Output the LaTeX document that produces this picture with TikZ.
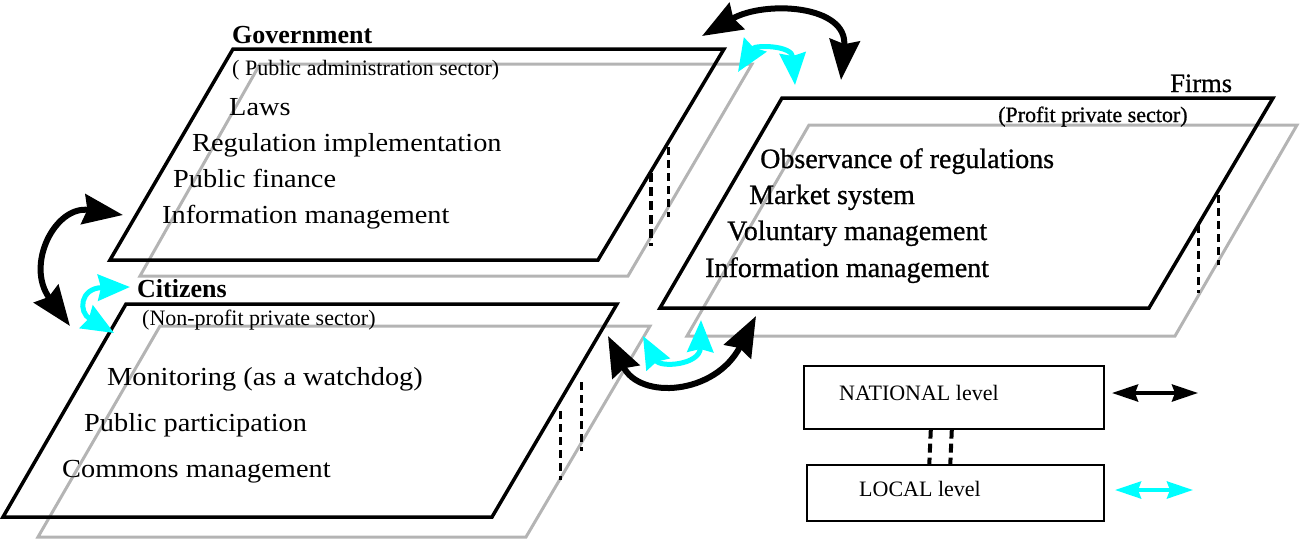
\documentclass[tikz,border=0pt]{standalone}
\usepackage{fontspec}
\setmainfont{Liberation Serif}
\newfontfamily\panelfont{Liberation Serif}[FakeStretch=1.09]
\newfontfamily\firmfont{Liberation Serif}[FakeBold=0.8]
\usetikzlibrary{arrows.meta}
\definecolor{localc}{RGB}{0,255,255}
\definecolor{shadowc}{RGB}{180,180,180}
\tikzset{
  front/.style={draw=black, line width=3.5pt, line join=miter},
  back/.style={draw=shadowc, line width=3pt, line join=miter},
  link/.style={line width=3pt, dash pattern=on 8pt off 5pt},
  biglink/.style={line width=4pt, dash pattern=on 9pt off 5pt},
  bigtip/.tip={Stealth[length=40pt,width=30pt,inset=4pt]},
  midtip/.tip={Stealth[length=32pt,width=26pt,inset=3pt]},
  smalltip/.tip={Stealth[length=26pt,width=17pt,inset=3pt]},
  natl/.style={draw=black, line width=6pt, bigtip-bigtip},
  locl/.style={draw=localc, line width=5pt, midtip-midtip},
  natkey/.style={draw=black, line width=4pt, smalltip-smalltip},
  lockey/.style={draw=localc, line width=4pt, smalltip-smalltip},
  body/.style={anchor=base west, inner sep=0pt, font=\panelfont\fontsize{26}{30}\selectfont},
  firmbody/.style={anchor=base west, inner sep=0pt, font=\firmfont\fontsize{28}{32}\selectfont},
  sub/.style={anchor=base west, inner sep=0pt, font=\fontsize{22}{26}\selectfont},
  firmsub/.style={anchor=base west, inner sep=0pt, font=\firmfont\fontsize{22}{26}\selectfont},
  head/.style={anchor=base west, inner sep=0pt, font=\bfseries\fontsize{26}{30}\selectfont},
  keybox/.style={draw=black, line width=1.6pt, anchor=north west, inner sep=0pt},
  keytext/.style={anchor=base west, inner sep=0pt, font=\fontsize{22}{26}\selectfont},
}
\begin{document}
\begin{tikzpicture}[x=1pt, y=-1pt]
\useasboundingbox (0,0) rectangle (1300,539);

% ---- lower (local) planes, grey ----
\draw[back] (260,64) -- (752,64) -- (628,276) -- (140,276) -- cycle;
\draw[back] (809,125) -- (1297,125) -- (1175,336) -- (687,336) -- cycle;
\draw[back] (160,326) -- (650,326) -- (526,537) -- (38,537) -- cycle;

% ---- upper (national) planes, black ----
\draw[front] (233,49) -- (724,49) -- (598,260) -- (110,260) -- cycle;
\draw[front] (782,98) -- (1273,98) -- (1149,308) -- (660,308) -- cycle;
\draw[front] (126,304) -- (617,304) -- (492,517) -- (3,517) -- cycle;

% ---- dashed ties between the two levels of each sector ----
\draw[biglink] (651,173) -- (651,246);
\draw[link] (668,147) -- (668,217);
\draw[link] (1198,225) -- (1198,293);
\draw[link] (1218,195) -- (1218,265);
\draw[link] (560,411) -- (560,480);
\draw[link] (581,382) -- (581,451);

% ---- Government ----
\node[head] (govhead) at (232,43) {Government};
\node[sub] (govsub) at (232,75) {( Public administration sector)};
\node[body] (gov1) at (229,115) {Laws};
\node[body] (gov2) at (192,151) {Regulation implementation};
\node[body] (gov3) at (173,187) {Public finance};
\node[body] (gov4) at (162,223) {Information management};

% ---- Firms ----
\node[anchor=base west, inner sep=0pt, font=\firmfont\fontsize{26.5}{30}\selectfont] (firmhead) at (1170,92) {Firms};
\node[firmsub] (firmsub) at (998,122) {(Profit private sector)};
\node[firmbody] (firm1) at (760,168) {Observance of regulations};
\node[firmbody] (firm2) at (749,204) {Market system};
\node[firmbody] (firm3) at (727,240) {Voluntary management};
\node[firmbody] (firm4) at (705,277) {Information management};

% ---- Citizens ----
\node[head] (cithead) at (137,297) {Citizens};
\node[sub] (citsub) at (142,325) {(Non-profit private sector)};
\node[body] (cit1) at (107,385) {Monitoring (as a watchdog)};
\node[body] (cit2) at (84,431) {Public participation};
\node[body] (cit3) at (62,477) {Commons management};

% ---- arrow end points on the planes ----
\coordinate (govN) at (702,36);
\coordinate (firmN) at (841,80);
\coordinate (govL) at (738,72);
\coordinate (firmL) at (795,85);
\coordinate (govW) at (123,215);
\coordinate (citW) at (70,326);
\coordinate (citHL) at (130,287);
\coordinate (citWL) at (114,333);
\coordinate (citE) at (608,336);
\coordinate (firmS) at (756,316);
\coordinate (citEL) at (643,336);
\coordinate (firmSL) at (701,320);

% ---- national relations ----
\draw[natl] (govN) .. controls (765,0) and (848,5) .. (firmN);
\draw[natl] (govW) .. controls (55,205) and (25,265) .. (citW);
\draw[natl] (citE) .. controls (640,400) and (715,395) .. (firmS);

% ---- local relations ----
\draw[locl] (govL) .. controls (755,45) and (792,45) .. (firmL);
\draw[locl] (citHL) .. controls (80,288) and (78,312) .. (citWL);
\draw[locl] (citEL) .. controls (660,368) and (700,365) .. (firmSL);

% ---- key ----
\node[keybox, minimum width=300pt, minimum height=63pt] (natbox) at (803,365) {};
\node[keybox, minimum width=297pt, minimum height=56pt] (locbox) at (806,464) {};
\node[keytext] (nattext) at (839,400) {NATIONAL level};
\node[keytext] (loctext) at (859,496) {LOCAL level};
\draw[biglink] ([xshift=-23pt]natbox.south) -- ([xshift=-26pt]locbox.north);
\draw[biglink] ([xshift=-2pt]natbox.south) -- ([xshift=-5pt]locbox.north);
\coordinate (natA) at (1112,393);
\coordinate (natB) at (1198,393);
\coordinate (locA) at (1115,490);
\coordinate (locB) at (1193,490);
\draw[natkey] (natA) -- (natB);
\draw[lockey] (locA) -- (locB);
\end{tikzpicture}
\end{document}
